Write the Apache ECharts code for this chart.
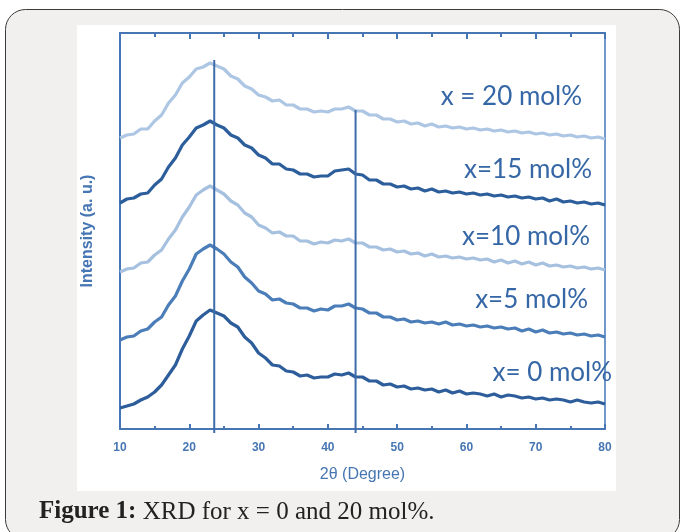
<!DOCTYPE html>
<html>
<head>
<meta charset="utf-8">
<script src="https://cdn.jsdelivr.net/npm/echarts@6/dist/echarts.min.js"></script>
<style>
html,body{margin:0;padding:0;background:#ffffff;}
#chart{width:681px;height:532px;}
</style>
</head>
<body>
<div id="chart"></div>
<script>
// 2θ positions (degrees)
const twoTheta = [10,11,12,13,14,15,16,17,18,19,20,21,22,23,24,25,26,27,28,29,30,31,32,33,34,35,36,37,38,39,40,41,42,43,44,45,46,47,48,49,50,51,52,53,54,55,56,57,58,59,60,61,62,63,64,65,66,67,68,69,70,71,72,73,74,75,76,77,78,79,80];
// intensities (a.u., stacked offsets included)
const x0 = [21,23,25,29,32,37,44,54,64,80, 93,108,114,119,116,113,106,102,92,86, 76,71,64,63,58,57,53,54,51,52, 52,55,54,56,52,52,48,48,44,45, 42, 43,40,41,39,40,37,39,36,38,35, 36,35,33,35,32,34,33,31,32,30, 31,29,30,29,27,29,27,26,27,25];
const x5 = [89,92,93,98,100,107,112,124,133,148, 160,175,180,184,180,175,167,162,152,146, 138,135,129,130,126,125,121,121,118,120, 119,123,123,125,121,120,116,116,112,112, 109,110,107,108,106,107,105,107,104,105, 103,104,102,103,101,102,100,101,98,100, 97,99,96,97,95,96,94,95,93,94,92];
const x10 = [157,160,161,166,167,174,179,190,199,212, 222,234,239,243,239,235,228,224,216,212, 204,201,196,197,193,193,188,188,185,187, 186,189,188,190,186,186,182,182,179,180, 177,178,175,176,173,175,172,173,171,172, 170,171,169,170,167,169,166,168,165,167, 164,166,163,164,162,163,161,162,160,161,159];
const x15 = [226,230,231,235,236,244,250,262,271,284, 292,301,304,308,304,301,294,291,284,281, 274,271,265,265,260,259,255,255,252,253, 253,258,259,260,255,254,249,249,245,245, 242,243,240,241,238,240,237,238,236,237, 235,236,234,235,233,234,232,233,231,232, 230,231,228,230,227,228,226,227,225,226,224];
const x20 = [291,294,295,300,300,308,314,326,334,346, 352,360,362,366,363,360,353,350,343,340, 334,332,328,329,324,324,320,320,317,318, 317,320,320,322,318,318,314,314,310,310, 307,308,305,306,303,305,302,303,301,302, 300,301,299,300,298,299,297,298,296,297, 295,296,294,295,293,294,292,293,291,292,290];
const seriesNames = ['x = 20 mol%','x=15 mol%','x=10 mol%','x=5 mol%','x= 0 mol%'];
// reference (vertical) lines: 2θ position, bottom and top intensity
const refPos = [23.6, 44.0];
const refBottom = [-4, -4];
const refTop = [369, 319];
const xTicks = [10,20,30,40,50,60,70,80];

const axisBlue = '#4676b3';
const colors = ['#adc6e3','#2c5e9c','#a6c0df','#4b7db9','#2d5d9b'];
const datas = [x20, x15, x10, x5, x0];

const chart = echarts.init(document.getElementById('chart'), null, {renderer:'canvas'});

const series = datas.map((d, i) => ({
  name: seriesNames[i],
  type: 'line',
  showSymbol: false,
  silent: true,
  clip: false,
  data: twoTheta.map((t, k) => [t, d[k]]),
  lineStyle: {color: colors[i], width: 3.2},
  z: 3
}));
refPos.forEach((p, i) => {
  series.push({
    type: 'line', showSymbol: false, silent: true, clip: false, z: 4,
    data: [[p, refBottom[i]], [p, refTop[i]]],
    lineStyle: {color: '#3d6caa', width: 2}
  });
});

const labelFont = 'Lato, "Noto Sans", sans-serif';
const labelPos = [[582,97],[592,170],[590,237],[588,300],[612,373]];
const sansFont = '"Liberation Sans", Arial, sans-serif';

chart.setOption({
  animation: false,
  backgroundColor: 'transparent',
  grid: {left:120, right:76, top:33, bottom:103, containLabel:false},
  xAxis: [{
    type:'value', min:10, max:80, interval:10, position:'bottom',
    name:'2θ (Degree)', nameLocation:'middle', nameGap:38,
    nameTextStyle:{color:axisBlue, fontSize:16, fontFamily:sansFont},
    axisLine:{show:true, onZero:false, lineStyle:{color:axisBlue, width:2}},
    axisTick:{show:true, inside:true, length:5, lineStyle:{color:axisBlue, width:2}},
    minorTick:{show:true, splitNumber:2, length:3, lineStyle:{color:axisBlue, width:2}},
    axisLabel:{color:axisBlue, fontSize:12, fontWeight:'bold', margin:13, fontFamily:sansFont,
      formatter: v => xTicks.includes(v) ? String(v) : ''},
    splitLine:{show:false}
  },{
    type:'value', min:10, max:80, interval:10, position:'top',
    axisLine:{show:true, onZero:false, lineStyle:{color:axisBlue, width:2}},
    axisTick:{show:true, inside:true, length:6, lineStyle:{color:axisBlue, width:2}},
    minorTick:{show:true, splitNumber:2, length:4, lineStyle:{color:axisBlue, width:2}},
    axisLabel:{show:false}, splitLine:{show:false}
  }],
  yAxis: [{
    type:'value', min:0, max:396, position:'left',
    name:'Intensity (a. u.)', nameLocation:'middle', nameGap:24, nameRotate:90,
    nameTextStyle:{color:axisBlue, fontSize:16, fontWeight:'bold', fontFamily:sansFont},
    axisLine:{show:true, onZero:false, lineStyle:{color:axisBlue, width:2}},
    axisTick:{show:false}, axisLabel:{show:false}, splitLine:{show:false}
  },{
    type:'value', min:0, max:396, position:'right',
    axisLine:{show:true, onZero:false, lineStyle:{color:'#7099c9', width:2}},
    axisTick:{show:false}, axisLabel:{show:false}, splitLine:{show:false}
  }],
  graphic: [
    {type:'rect', z:-10, shape:{x:5.5, y:9.5, width:674, height:530, r:20},
      style:{fill:'#f1f0ee', stroke:'#3a3a3a', lineWidth:1}},
    {type:'rect', z:-9, shape:{x:77, y:25, width:539, height:466},
      style:{fill:'#ffffff'}},
    ...seriesNames.map((n, i) => ({
      type:'text', z:10, x:labelPos[i][0], y:labelPos[i][1],
      style:{text:n, fill:'#3566a5', font:'26px ' + labelFont, textAlign:'right', textVerticalAlign:'middle'}
    })),
    {type:'text', z:10, x:39, y:512,
      style:{
        text:'{b|Figure 1:}{n| XRD for x = 0 and 20 mol%.}',
        rich:{
          b:{fontWeight:'bold', fontSize:25, fontFamily:'"Liberation Serif", serif', fill:'#222222'},
          n:{fontSize:25, fontFamily:'"Liberation Serif", serif', fill:'#222222'}
        },
        fill:'#222222', textVerticalAlign:'middle'}}
  ],
  series: series
});
</script>
</body>
</html>
